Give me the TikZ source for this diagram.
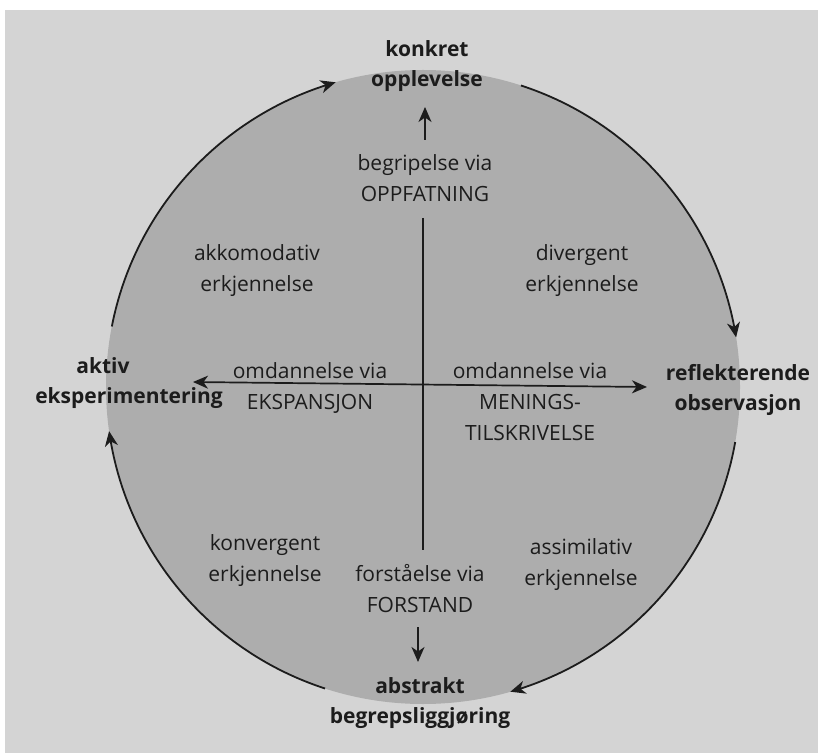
\documentclass[tikz,border=0pt]{standalone}
\usepackage{fontspec}
\setmainfont{Open Sans}
\usetikzlibrary{arrows.meta,bending}
\definecolor{paper}{HTML}{D4D4D4}
\definecolor{disc}{HTML}{ADADAD}
\definecolor{ink}{HTML}{1C1C1C}
\tikzset{
  % nodes are placed by the baseline of their last line
  lbl/.style={inner sep=0pt, anchor=base, align=center, text=ink,
    font=\fontsize{21}{31}\selectfont},
  pole/.style={lbl, font=\fontsize{21}{30}\selectfont\bfseries},
  barb/.tip={Stealth[length=15pt,width=13pt,inset=4.5pt]},
  axis/.style={draw=ink, line width=1.7pt},
  tip/.style={-barb},
  cycle/.style={draw=ink, line width=1.8pt, tip},
}
\begin{document}
\begin{tikzpicture}[x=1pt,y=1pt]
  % page and background
  \useasboundingbox (0,0) rectangle (818,753);
  \fill[white] (0,0) rectangle (818,753);
  \fill[paper] (5,0) rectangle (818,743);
  % the learning cycle disc
  \coordinate (C) at (423,366);
  \fill[disc] (C) circle[radius=317];

  % arcs of the cycle, running clockwise
  \draw[cycle] (C) ++(169:317) arc[start angle=169, end angle=106, radius=317];
  \draw[cycle] (C) ++(72:317)  arc[start angle=72,  end angle=9,   radius=317];
  \draw[cycle] (C) ++(-10:317) arc[start angle=-10, end angle=-74, radius=317];
  \draw[cycle] (C) ++(252:317) arc[start angle=252, end angle=188, radius=317];

  % poles of the cycle
  \node[pole] (konkret) at (427,666) {konkret\\opplevelse};
  \node[pole] (abstrakt) at (420,30) {abstrakt\\begrepsliggjøring};
  \node[pole] (refl) at (738,343) {reflekterende\\observasjon};
  \node[pole] (aktiv) at (103,380) {aktiv};
  \node[pole] (eksp) at (129,350) {eksperimentering};

  % axis labels
  \node[lbl] (oppf) at (425,551) {begripelse via\\OPPFATNING};
  \node[lbl] (forst) at (420,141) {forståelse via\\FORSTAND};
  \node[lbl] (ekspa) at (310,344) {omdannelse via\\EKSPANSJON};
  \node[lbl] (mening) at (530,313) {omdannelse via\\MENINGS-\\TILSKRIVELSE};

  % quadrant labels
  \node[lbl] (akk) at (257,461) {akkomodativ\\erkjennelse};
  \node[lbl] (div) at (582,461) {divergent\\erkjennelse};
  \node[lbl] (konv) at (265,172) {konvergent\\erkjennelse};
  \node[lbl] (assim) at (581,168) {assimilativ\\erkjennelse};

  % axes
  \coordinate (upA) at (425,613);
  \coordinate (upB) at (425,646);
  \coordinate (vTop) at (423,535);
  \coordinate (vBot) at (423,203);
  \coordinate (dnA) at (418,126);
  \coordinate (dnB) at (418,91);
  \coordinate (hL) at (193,371);
  \coordinate (hR) at (647,366);
  \draw[axis, tip] (upA) -- (upB);
  \draw[axis] (vTop) -- (vBot);
  \draw[axis, tip] (dnA) -- (dnB);
  \draw[axis, barb-barb] (hL) -- (hR);
\end{tikzpicture}
\end{document}
